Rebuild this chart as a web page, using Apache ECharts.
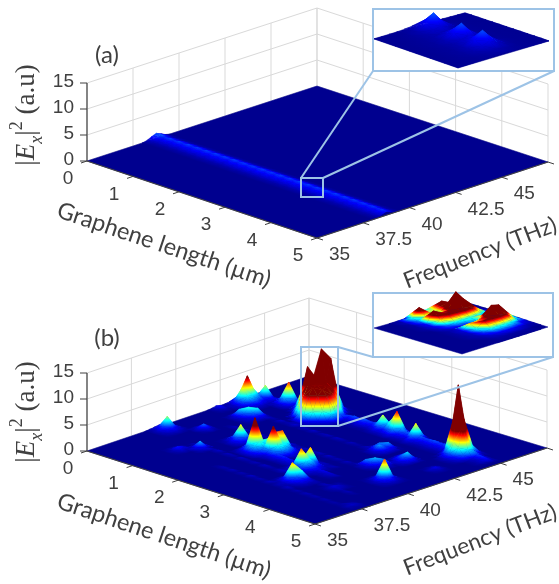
<!DOCTYPE html>
<html><head><meta charset="utf-8">
<style>html,body{margin:0;padding:0;background:#fff}#c{width:559px;height:584px;filter:blur(0.5px)}</style>
<script src="https://cdn.jsdelivr.net/npm/echarts@6/dist/echarts.min.js"></script>
</head><body><div id="c"></div>
<script>
// ---- axes ----
const lengthTicks=[0,1,2,3,4,5];
const freqTicks=[35,37.5,40,42.5,45];
const freqGrid=[35,37.5,40,42.5,45,47.5];
const zTicks=[0,5,10,15];
const lengthStep=0.1, freqStep=0.25, gridSize=51;
// ---- panel (a): ridge read along the frequency row near 38.75 THz, one value per 0.1 um ----
const ridgeACentre=[1,1.05,.82,.92,.8,.9,.8,.92,.8,.9,.79,.9,.79,.92,.8,.9,.79,.92,.8,.9,.79,.9,.79,.92,.8,.9,.8,.92,.79,.9,.79,.9,.8,.92,.79,.9,.79,.9,.8,.92,.79,.9,.79,.9,.79,.88,.77,.88,.77,.84,.72];
const ridgeASide=[.62,.66,.5,.56,.48,.55,.48,.56,.5,.55,.48,.55,.48,.56,.5,.55,.48,.56,.5,.55,.48,.55,.48,.56,.5,.55,.5,.56,.48,.55,.48,.55,.5,.56,.48,.55,.48,.55,.5,.56,.48,.55,.48,.55,.48,.53,.46,.53,.46,.48,.4];
const ridgeAOuter=[.2,.24,.15,.17,.14,.17,.14,.17,.15,.17,.14,.17,.14,.17,.15,.17,.14,.17,.15,.17,.14,.17,.14,.17,.15,.17,.15,.17,.14,.17,.14,.17,.15,.17,.14,.17,.14,.17,.15,.17,.14,.17,.14,.17,.14,.16,.13,.16,.13,.14,.1];
// ---- panel (b): ridge near 44.75 THz, values from 1.8 um on ----
const ridgeB40=[.1,.2,.3,.3,.4,.3,.3,.4,1,.8,1,1.4,.7,.5,.4,1.1,.5,.4,.3,.4,.4,.4,.5,.6,.8,.5,.5,.4,.4,.3,.2];
const ridgeB39=[.5,.8,1,.8,1.1,.9,.8,1.2,2.9,1.6,2.7,4.4,1.5,1.1,1,3.2,1.1,.9,.9,1,.9,.9,1.2,1.5,2,1.2,1.2,1,.9,.8,.6];
const ridgeB38=[.3,.4,.5,.4,.6,.5,.4,.6,1,.7,1,1.3,.7,.6,.5,1.1,.6,.5,.5,.5,.5,.5,.6,.6,.8,.6,.6,.5,.4,.3,.3];
const ridgeB37=[.05,.1,.1,.1,.15,.1,.1,.2,.3,.3,.35,.5,.25,.2,.2,.35,.2,.15,.15,.2,.15,.15,.2,.2,.3,.2,.2,.2,.15,.1,.1];
// low ripples of panel (b): [first length index, frequency index, values]
const ripplesB=[
 [24,18,[.9,.8,.7,.6,.7,1,1.2,.8,.6,.5,.5,.4,.3]],
 [24,17,[.4,.3,.3,.3,.3,.4,.6,.4,.3,.2,.2,.2,.1]],
 [10,14,[.2,.1,.3,.15,.2,.3,.1,.25,.2,.1,.3,.2,.15,.25,.1,.3,.2,.1,.2,.3,.1,.2,.25,.1,.3,.15,.2,.1,.25,.2,.1,.3,.15,.2,.1]],
 [8,24,[.1,.25,.15,.3,.1,.2,.3,.15,.25,.1,.3,.2,.1,.35,.2,.15,.3,.1,.2,.25,.1,.3,.15,.2,.1,.25,.1]],
 [6,31,[.15,.3,.1,.25,.2,.1,.3,.15,.2,.35,.1,.25,.15,.3,.1,.2,.25,.1,.3,.2,.1,.25,.15,.1,.2]],
 [20,9,[.1,.2,.15,.25,.1,.2,.1,.3,.15,.2,.1,.25,.1,.2,.15,.3,.1,.2,.1,.25,.15,.2,.1,.2,.1,.15,.1]],
 [14,21,[.2,.3,.2,.35,.25,.4,.2,.3,.2,.4,.25,.3,.2,.3,.15,.25,.2,.25,.15,.2]]
];
// height patches of panel (b): [first length index, first frequency index, rows of |Ex|^2]
const patchesB=[
 [0,14,[[.1,.2,.3,.2,.1],[.2,.6,.9,.5,.2],[.3,.9,2.6,.8,.2],[.2,.5,.8,.5,.2],[.1,.2,.3,.2,.1]]],
 [5,19,[[.2,.4,.2],[.4,1.1,.5],[.1,.4,.2]]],
 [0,28,[[.1,.3,.1],[.2,.6,.2],[.1,.2,.1]]],
 [9,9,[[.1,.2,.2,.1],[.2,.7,.5,.1],[.1,.3,.2,.1]]],
 [11,12,[[.2,.4,.2],[.5,1.5,.6],[.2,.5,.2]]],
 [12,18,[[.1,.2,.3,.2,.1],[.2,.6,1,.6,.2],[.4,1,3.2,1,.3],[.3,.7,1,.7,.3],[.1,.3,.3,.2,.1]]],
 [17,16,[[.2,.4,.6,.4,.2,.1],[.4,1,1.6,1,.6,.3],[.6,1.6,6.5,1.8,1.6,.6],[.6,1.6,2.2,1.6,2.2,.9],[.4,.9,1.3,1.3,1.3,.6],[.1,.4,.6,.6,.6,.2]]],
 [20,17,[[.2,.4,.6,.8,.6,.3,.1],[.3,.8,1.4,3.6,1.4,.7,.2],[.4,1.2,5.4,2,4,1,.3],[.4,1.2,2,2,1.8,.9,.3],[.2,.7,1.1,1.3,1,.5,.1],[.1,.2,.4,.5,.3,.1,0]]],
 [0,31,[[.1,.2,.4,.5,.3,.2],[.2,.7,1.4,1.6,.8,.3],[.3,1.1,3.4,5.2,2.8,.6],[.3,1,1.8,1.8,1.5,.6],[.2,.5,.8,1,.7,.3],[.1,.2,.3,.3,.2,.1]]],
 [1,35,[[.1,.2,.3,.2],[.2,.6,.9,.3],[.3,.9,2.8,.5],[.2,.5,.7,.2],[.1,.2,.2,.1]]],
 [5,27,[[.2,.5,.4,.2,.1],[.4,1.6,1,.5,.2],[.3,1,2,1.1,.3],[.2,.5,1.1,1.8,.5],[.1,.2,.4,.5,.2]]],
 [28,15,[[.1,.2,.3,.3,.2,.1],[.2,.6,.9,.9,.5,.2],[.4,1,3.9,1.6,3.6,.4],[.3,1,1.6,1.8,1.1,.3],[.2,.5,.8,.8,.5,.2],[.1,.2,.3,.3,.2,.1]]],
 [31,10,[[.1,.2,.3,.2,.1],[.2,.6,.9,.5,.2],[.3,1,3.5,.9,.3],[.2,.7,1,2.1,.5],[.1,.3,.6,.6,.3],[0,.1,.2,.2,.1]]],
 [5,36,[[.1,.3,.5,.2,.1],[.3,.9,1.4,.6,.2],[.4,1.4,4.2,1.1,.3],[.3,.9,1.3,.7,.2],[.1,.3,.4,.2,.1]]],
 [10,30,[[0,0,0,0,0,0,.4,1.2,1.8,1,.3,0,0,0,0],[0,0,0,0,0,.3,1.6,4.5,8.3,3.5,1.5,.3,0,0,0],[0,0,0,0,.6,2.4,4.5,5.5,5.8,6,4,1.2,.3,0,0],[0,0,0,.5,2.4,5,6,6,6.2,12,5.5,2.4,.5,0,0],[0,0,.2,1.5,4.6,6.2,6.5,6.5,6.5,5.8,10.2,4.4,.5,0,0],[0,0,.2,1.5,5,6.3,6.5,6.5,6.3,5.6,4.4,1.4,.2,0,0],[0,0,.1,.6,2.3,5,5.8,6.2,5.6,4.4,1.4,.3,0,0,0],[0,0,0,.15,.6,2.3,5,4.9,4,1.2,.3,0,0,0,0],[0,0,0,0,.15,.6,1.6,1.5,1,.3,0,0,0,0,0],[0,0,0,0,0,.1,.2,.2,.1,0,0,0,0,0,0]]],
 [41,35,[[0,.2,.7,1.4,1.8,1,.4],[.2,.8,2,7,4,1.6,.6],[.3,1,3,13.7,7.5,2.2,.7],[.2,.7,2.2,6,3,1.8,.5],[.1,.4,1.1,1.8,1.5,.7,.2]]],
 [31,30,[[.1,.3,.4,.3,.1],[.3,.9,1.2,.8,.2],[.4,1.4,1,1.3,.3],[.2,.5,.6,.5,.1]]],
 [35,24,[[.1,.3,.3,.2,.1],[.3,1.2,.8,.5,.1],[.3,.9,1.5,.8,.2],[.1,.4,.8,1.2,.3],[0,.1,.3,.3,.1]]],
 [37,29,[[.1,.3,.5,.2],[.3,.8,1,.4],[.4,1,1.7,.6],[.2,.5,.7,.3]]],
 [41,20,[[.1,.2,.3,.2,.1],[.2,.6,.9,.6,.2],[.3,1,4.1,.9,.2],[.2,.6,.9,.5,.2],[.1,.2,.3,.2,.1]]],
 [44,30,[[.1,.2,.1],[.3,.5,.2],[.1,.2,.1]]],
 [39,13,[[.1,.2,.1,.1],[.2,.4,.3,.1],[.1,.2,.2,.1]]],
 [47,9,[[.1,.2,.1],[.2,.3,.2],[.1,.1,.1]]]
];
// ---- magnified insets: 13 x 13 height samples ----
const insetA=[
[.02,.02,.03,.04,.07,.12,.18,.12,.07,.04,.03,.02,.02],
[.02,.02,.03,.05,.12,.35,.55,.28,.1,.05,.03,.02,.02],
[.02,.02,.04,.07,.18,.55,1.05,.5,.15,.06,.03,.02,.02],
[.02,.02,.04,.07,.14,.3,.42,.25,.1,.05,.03,.02,.02],
[.02,.03,.05,.07,.13,.2,.22,.15,.08,.05,.03,.02,.02],
[.02,.03,.05,.08,.16,.38,.55,.3,.1,.05,.03,.02,.02],
[.02,.03,.05,.09,.2,.55,1,.48,.15,.06,.03,.02,.02],
[.02,.03,.05,.08,.15,.3,.4,.25,.1,.05,.03,.02,.02],
[.02,.03,.05,.08,.16,.35,.5,.3,.12,.05,.03,.02,.02],
[.02,.03,.05,.09,.2,.55,1,.5,.16,.06,.03,.02,.02],
[.02,.03,.05,.08,.16,.36,.5,.3,.12,.05,.03,.02,.02],
[.02,.02,.04,.05,.09,.14,.18,.13,.07,.04,.03,.02,.02],
[.01,.02,.03,.04,.06,.08,.09,.08,.05,.04,.03,.02,.01]];
const insetB=[
[0,0,0,.1,.4,1.2,2,2,2.5,1.2,.3,0,0],
[0,0,0,.2,2,6.5,2.5,3,6.5,2.5,.5,0,0],
[0,0,0,.1,1.2,2.2,2.5,3,7,4,1.5,.3,0],
[0,0,0,.1,.6,7,4.5,5,14,9,3,.6,0],
[0,0,0,.1,.5,3.5,5.2,5.5,6,5.8,3.5,.8,.1],
[0,0,0,0,.3,1,1.8,2,2,1.6,.9,.3,0],
[0,0,0,0,.1,.3,.5,.6,1.5,3.5,3,1.5,.3],
[0,0,0,0,.1,.4,3.5,3.5,5,10,9,3,.4],
[0,0,0,0,.1,.3,2,5,5.5,5.8,5.4,2.2,.3],
[0,0,0,0,.1,.2,.9,1.9,2.1,2.1,1.7,.7,.2],
[0,0,0,0,0,.1,.3,.5,.6,.6,.4,.2,.1],
[0,0,0,0,0,0,.1,.1,.1,.1,.1,0,0],
[0,0,0,0,0,0,0,0,0,0,0,0,0]];
// ---- text ----
const lengthTitle='Graphene length (µm)', freqTitle='Frequency (THz)';

// ---- layout of the projection ----
const geoA={L:[87,161],F:[317,238],R:[548,162],B:[317,86],zPx:5.2};
const geoB={L:[87,451],F:[315,524],R:[547,448],B:[309,376],zPx:5.2};
const geoIA={L:[374,39],F:[458,68],R:[549,41],B:[465,13],zPx:17};
const geoIB={L:[374,328],F:[462,354],R:[548,327],B:[465,302],zPx:1.8};
const C_MAX=5;
const JET=[[0,[0,0,143]],[.125,[0,0,255]],[.375,[0,255,255]],[.625,[255,255,0]],[.875,[255,0,0]],[1,[128,0,0]]];
function jet(z){
  const t=Math.max(0,Math.min(1,z/C_MAX));
  for(let i=1;i<JET.length;i++){ if(t<=JET[i][0]){
    const a=JET[i-1],b=JET[i],k=(t-a[0])/(b[0]-a[0]);
    return 'rgb('+a[1].map((v,n)=>Math.round(v+(b[1][n]-v)*k)).join(',')+')';
  }}
  return 'rgb(128,0,0)';
}
function triFill(p,z){
  const lo=Math.min(...z), hi=Math.max(...z);
  if(hi-lo<1e-3||lo>=C_MAX) return jet((z[0]+z[1]+z[2])/3);
  const e1=[p[1][0]-p[0][0],p[1][1]-p[0][1]], e2=[p[2][0]-p[0][0],p[2][1]-p[0][1]];
  const d1=z[1]-z[0], d2=z[2]-z[0], det=e1[0]*e2[1]-e2[0]*e1[1];
  if(Math.abs(det)<1e-3) return jet((lo+hi)/2);
  const gx=(d1*e2[1]-d2*e1[1])/det, gy=(e1[0]*d2-e2[0]*d1)/det, g2=gx*gx+gy*gy;
  const s=z.indexOf(lo), span=hi-lo;
  const x0=p[s][0], y0=p[s][1], x1=x0+gx/g2*span, y1=y0+gy/g2*span;
  const stops=[{offset:0,color:jet(lo)}];
  JET.forEach(j=>{const v=j[0]*C_MAX; if(v>lo&&v<hi) stops.push({offset:(v-lo)/span,color:jet(v)});});
  stops.push({offset:1,color:jet(hi)});
  return new echarts.graphic.LinearGradient(x0,y0,x1,y1,stops,true);
}
function proj(g,a,b,z){
  const w=[(1-a)*(1-b),a*(1-b),a*b,(1-a)*b];
  return [w[0]*g.L[0]+w[1]*g.F[0]+w[2]*g.R[0]+w[3]*g.B[0],
          w[0]*g.L[1]+w[1]*g.F[1]+w[2]*g.R[1]+w[3]*g.B[1]-z*g.zPx];
}
function emptyGrid(n){return Array.from({length:n},()=>new Array(n).fill(0));}
function put(h,i,j,v){ if(h[i]&&j>=0&&j<h[i].length) h[i][j]=Math.max(h[i][j],v); }
const heightsA=emptyGrid(gridSize);
const fjA=Math.round((38.75-35)/freqStep);
ridgeACentre.forEach((v,i)=>put(heightsA,i,fjA,v));
ridgeASide.forEach((v,i)=>{put(heightsA,i,fjA-1,v);put(heightsA,i,fjA+1,v);});
ridgeAOuter.forEach((v,i)=>{put(heightsA,i,fjA-2,v);put(heightsA,i,fjA+2,v);});
const heightsB=emptyGrid(gridSize);
[[40,ridgeB40],[39,ridgeB39],[38,ridgeB38],[37,ridgeB37]].forEach(r=>r[1].forEach((v,i)=>put(heightsB,18+i,r[0],v)));
ripplesB.forEach(r=>r[2].forEach((v,i)=>put(heightsB,r[0]+i,r[1],v)));
patchesB.forEach(p=>p[2].forEach((row,i)=>row.forEach((v,j)=>put(heightsB,p[0]+i,p[1]+j,v))));

// triangles in painter's order: far corner first
function triangles(h){
  const n=h.length-1, out=[];
  for(let i=0;i<n;i++) for(let j=n-1;j>=0;j--){
    const z00=h[i][j],z10=h[i+1][j],z01=h[i][j+1],z11=h[i+1][j+1];
    if(z00===0&&z10===0&&z01===0&&z11===0) continue;
    const a0=i/n,a1=(i+1)/n,b0=j/n,b1=(j+1)/n;
    out.push([a0,b0,z00,a1,b1,z11,a0,b1,z01]);
    out.push([a0,b0,z00,a1,b0,z10,a1,b1,z11]);
  }
  return out;
}
const axisColor='#404040', gridColor='#d9d9d9', calloutColor='#9dc3e6';
const tickFont='19px "Liberation Sans",Arial,sans-serif';
const lenTitleFont='23.4px Lato,"Open Sans",sans-serif';
const freqTitleFont='22.6px Lato,"Open Sans",sans-serif';
let zBase=1;
function surfaceSeries(geo,h){
  return [{
    type:'custom',coordinateSystem:'cartesian2d',silent:true,animation:false,z:zBase++,
    data:[[0]],
    renderItem:(p,api)=>({type:'polygon',shape:{points:[geo.L,geo.F,geo.R,geo.B].map(q=>api.coord(q))},style:{fill:jet(0),stroke:jet(0),lineWidth:.5}})
  },{
    type:'custom',coordinateSystem:'cartesian2d',silent:true,animation:false,z:zBase++,
    progressive:0,data:triangles(h),
    renderItem:(p,api)=>{
      const v=[0,1,2,3,4,5,6,7,8].map(k=>api.value(k));
      const pts=[0,3,6].map(k=>api.coord(proj(geo,v[k],v[k+1],v[k+2])));
      const f=triFill(pts,[v[2],v[5],v[8]]);
      return {type:'polygon',shape:{points:pts},style:{fill:f,stroke:f,lineWidth:.4}};
    }
  }];
}
function lineSeries(rows){
  return {type:'custom',coordinateSystem:'cartesian2d',silent:true,animation:false,z:zBase++,
    data:rows.map((r,i)=>[i]),
    renderItem:(p,api)=>{const r=rows[api.value(0)];
      return {type:'line',shape:{x1:api.coord(r[0])[0],y1:api.coord(r[0])[1],x2:api.coord(r[1])[0],y2:api.coord(r[1])[1]},style:{stroke:r[2],lineWidth:r[3]}};}};
}
function textSeries(rows){
  return {type:'custom',coordinateSystem:'cartesian2d',silent:true,animation:false,z:zBase++,
    data:rows.map((r,i)=>[i]),
    renderItem:(p,api)=>{const r=rows[api.value(0)],q=api.coord(r.at);
      return {type:'text',x:q[0],y:q[1],rotation:(r.rot||0)*Math.PI/180,
        style:Object.assign({text:r.text,font:r.font||tickFont,fill:axisColor,align:r.align||'center',verticalAlign:'middle'},r.extra||{})};}};
}
function wallRows(g){
  const rows=[], fa=l=>l/5, fb=f=>(f-35)/12.5;
  freqGrid.forEach(f=>rows.push([proj(g,0,fb(f),0),proj(g,0,fb(f),15),gridColor,1]));
  lengthTicks.forEach(l=>rows.push([proj(g,fa(l),1,0),proj(g,fa(l),1,15),gridColor,1]));
  zTicks.forEach(z=>{rows.push([proj(g,0,0,z),proj(g,0,1,z),gridColor,1]);rows.push([proj(g,0,1,z),proj(g,1,1,z),gridColor,1]);});
  return rows;
}
function axisRows(g){
  const rows=[], fa=l=>l/5, fb=f=>(f-35)/12.5, add=(p,d)=>[p[0]+d[0],p[1]+d[1]];
  rows.push([proj(g,0,0,0),proj(g,1,0,0),axisColor,1.2]);
  rows.push([proj(g,1,0,0),proj(g,1,1,0),axisColor,1.2]);
  rows.push([proj(g,0,0,0),proj(g,0,0,15),axisColor,1.2]);
  lengthTicks.forEach(l=>{const p=proj(g,fa(l),0,0);rows.push([p,add(p,[-6,2]),axisColor,1]);});
  freqGrid.forEach(f=>{const p=proj(g,1,fb(f),0);rows.push([p,add(p,[6,2]),axisColor,1]);});
  zTicks.forEach(z=>{const p=proj(g,0,0,z);rows.push([p,add(p,[-7,0]),axisColor,1]);});
  return rows;
}
function tickRows(g){
  const rows=[], fa=l=>l/5, fb=f=>(f-35)/12.5, add=(p,d)=>[p[0]+d[0],p[1]+d[1]];
  lengthTicks.forEach(l=>rows.push({text:String(l),at:add(proj(g,fa(l),0,0),[-19,18])}));
  freqTicks.forEach(f=>rows.push({text:String(f),at:add(proj(g,1,fb(f),0),[12,17]),align:'left'}));
  zTicks.forEach(z=>rows.push({text:String(z),at:add(proj(g,0,0,z),[-13,-1]),align:'right'}));
  return rows;
}
const serif='"Liberation Serif",serif';
const zTitleRich={
  b:{fontFamily:serif,fontSize:27,fill:axisColor,lineHeight:38},
  i:{fontFamily:serif,fontStyle:'italic',fontSize:27,fill:axisColor,lineHeight:38},
  s:{fontFamily:serif,fontStyle:'italic',fontSize:18,fill:axisColor,lineHeight:38,verticalAlign:'bottom'},
  p:{fontFamily:serif,fontSize:18,fill:axisColor,lineHeight:38,verticalAlign:'top'}
};
function titleRows(tag,tagAt,zAt,lenAt,freqAt){
  return [
    {text:tag,at:tagAt,font:'24px Lato,sans-serif'},
    {text:'{b||}{i|E}{s|x}{b||}{p|2}{b| (a.u)}',at:zAt,rot:90,extra:{rich:zTitleRich}},
    {text:lengthTitle,at:lenAt,rot:-18.5,font:lenTitleFont},
    {text:freqTitle,at:freqAt,rot:21,font:freqTitleFont}
  ];
}
function frameSeries(rect){
  return {type:'custom',coordinateSystem:'cartesian2d',silent:true,animation:false,z:zBase++,data:[[0]],
    renderItem:(p,api)=>{const a=api.coord([rect[0],rect[1]]),b=api.coord([rect[2],rect[3]]);
      return {type:'rect',shape:{x:a[0],y:a[1],width:b[0]-a[0],height:b[1]-a[1]},style:{fill:rect[4],stroke:calloutColor,lineWidth:2}};}};
}
function panel(g,h,insetGeo,insetH,box,frame,links,titles){
  return [lineSeries(wallRows(g)),...surfaceSeries(g,h),lineSeries(axisRows(g)),textSeries(tickRows(g)),textSeries(titles),
    lineSeries(links.map(l=>[l[0],l[1],calloutColor,2])),frameSeries([...box,'rgba(255,255,255,0)']),frameSeries([...frame,'#fff']),...surfaceSeries(insetGeo,insetH)];
}
const series=[
  ...panel(geoA,heightsA,geoIA,insetA,[301,178,323,197],[373,9,554,71],
    [[[301,178],[373,71]],[[323,178],[554,71]]],
    titleRows('(a)',[107,55],[27,115],[164,245],[480,253])),
  ...panel(geoB,heightsB,geoIB,insetB,[301,347,338,426],[373,293,553,357],
    [[[338,347],[373,357]],[[338,426],[553,357]]],
    titleRows('(b)',[107,338],[27,412],[164,536],[480,540]))
];
const chart=echarts.init(document.getElementById('c'),null,{renderer:'canvas'});
chart.setOption({
  animation:false,backgroundColor:'#fff',
  grid:{left:0,right:0,top:0,bottom:0},
  xAxis:{type:'value',min:0,max:559,show:false},
  yAxis:{type:'value',min:0,max:584,inverse:true,show:false},
  series
});
</script></body></html>
